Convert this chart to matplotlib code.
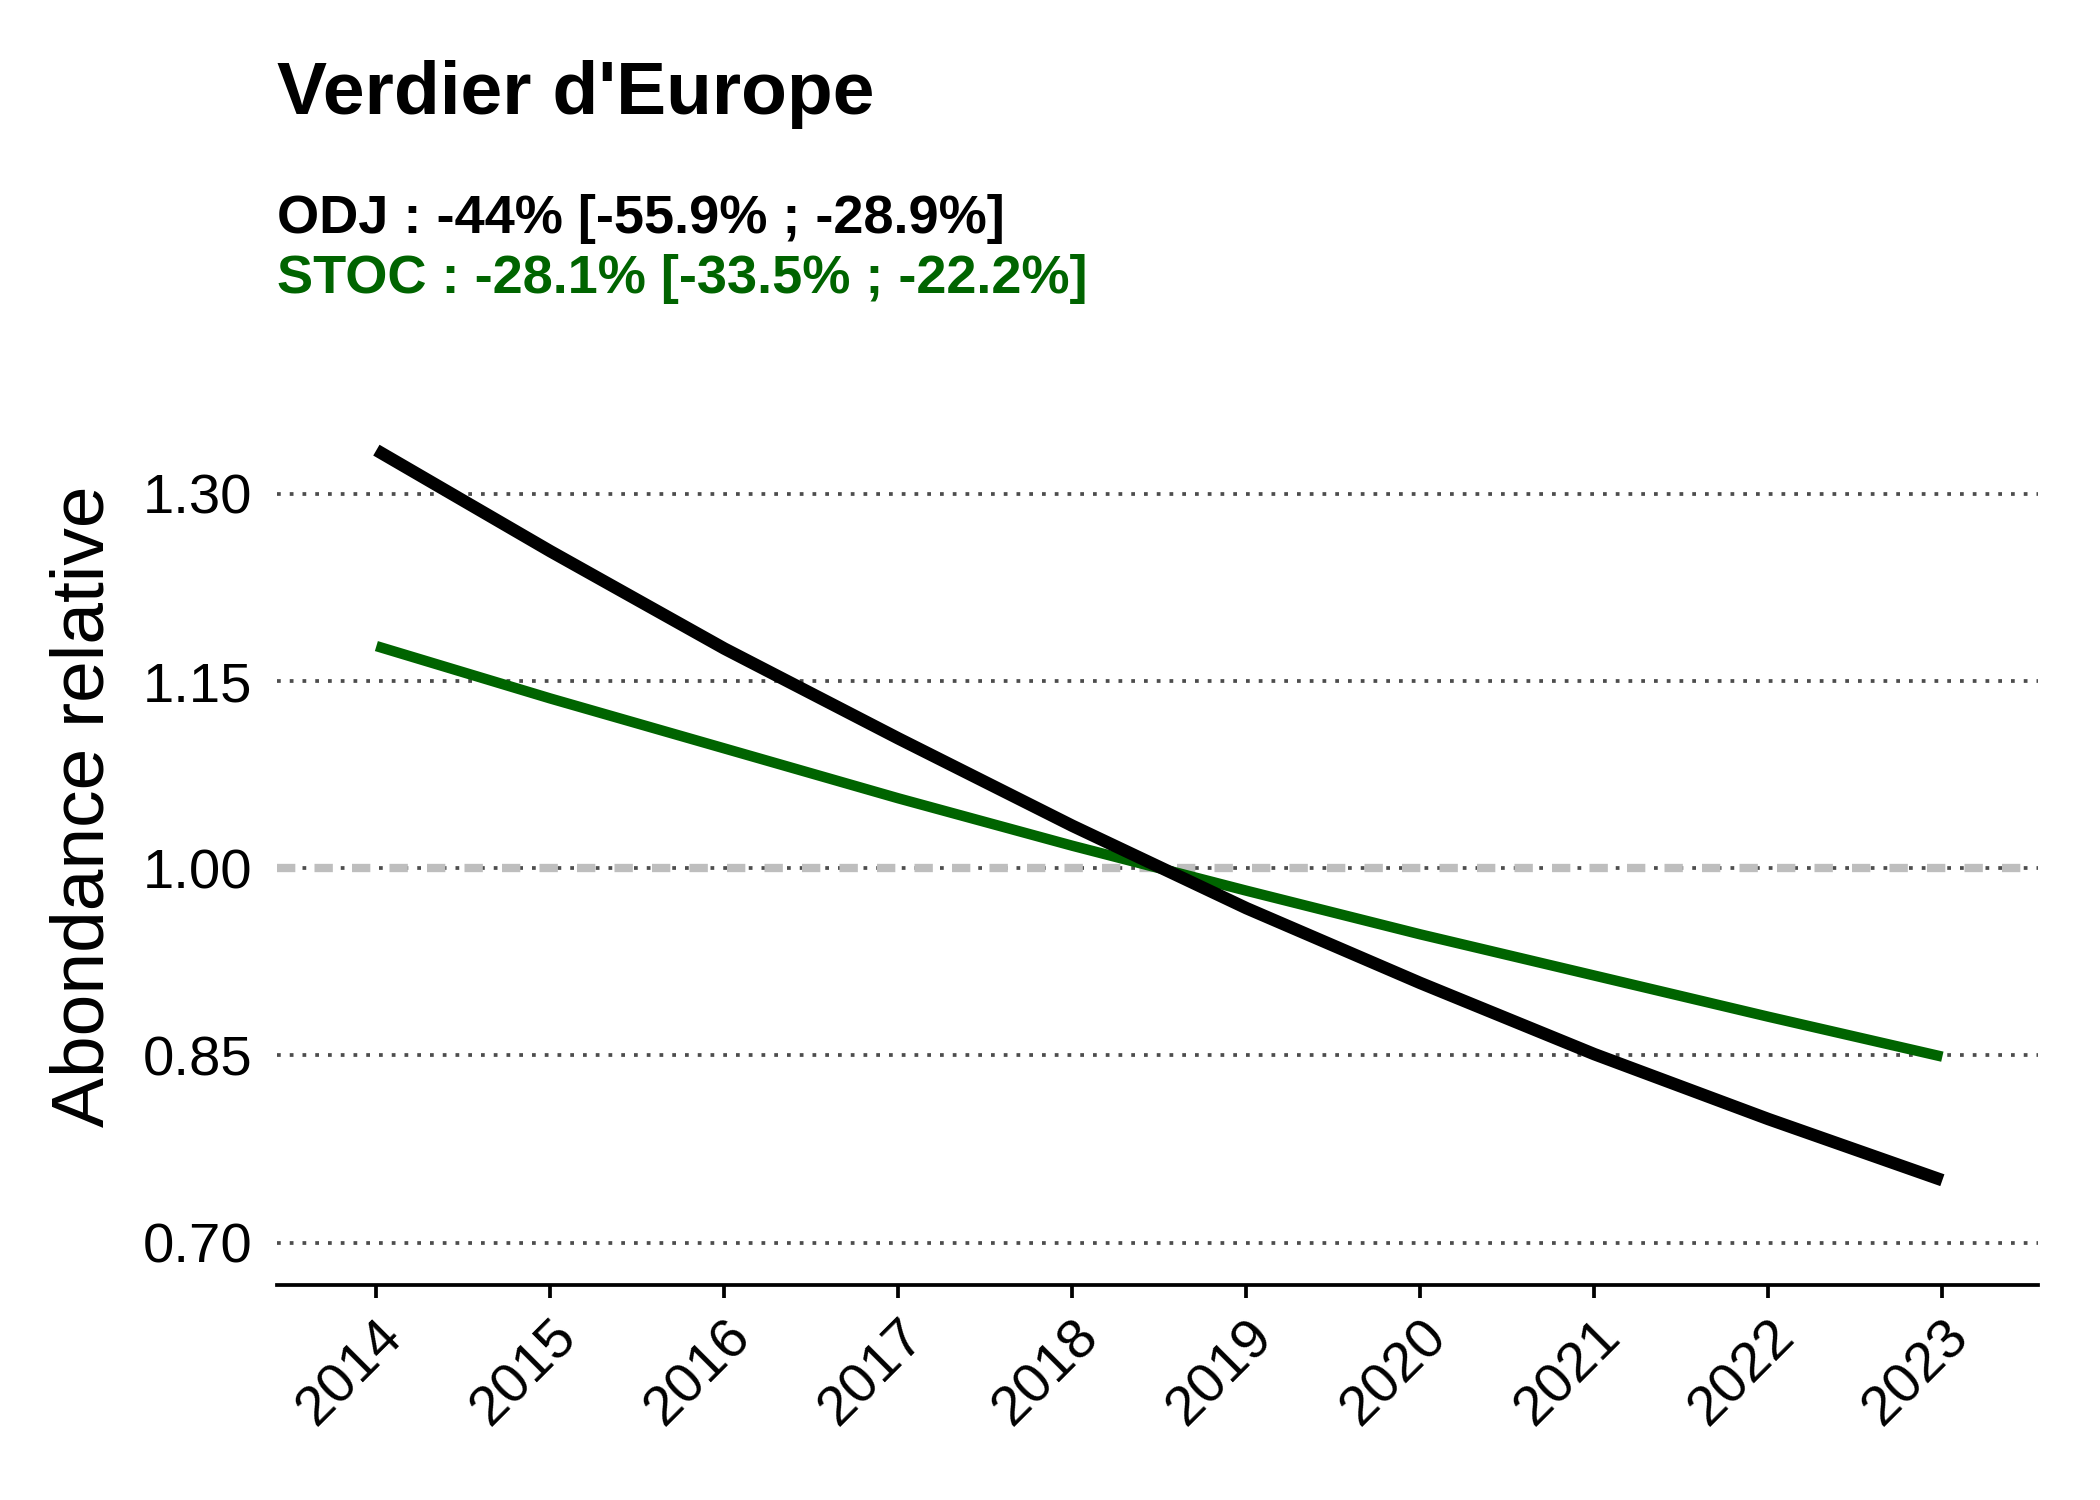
import matplotlib
matplotlib.use("Agg")
import matplotlib.pyplot as plt

plt.rcParams["font.family"] = ["Liberation Sans", "DejaVu Sans"]

years = [2014, 2015, 2016, 2017, 2018, 2019, 2020, 2021, 2022, 2023]
odj = [1.335, 1.254, 1.176, 1.104, 1.034, 0.968, 0.908, 0.851, 0.799, 0.750]
stoc = [1.178, 1.136, 1.096, 1.056, 1.018, 0.982, 0.947, 0.914, 0.881, 0.849]
yticks = [0.70, 0.85, 1.00, 1.15, 1.30]

title = "Verdier d'Europe"
sub_odj = "ODJ : -44% [-55.9% ; -28.9%]"
sub_stoc = "STOC : -28.1% [-33.5% ; -22.2%]"
GREEN = "#006400"

fig = plt.figure(figsize=(7, 5), dpi=300)
ax = fig.add_axes([0.132, 0.1433, 0.9705 - 0.132, 0.7207 - 0.1433])

for y in yticks:
    ax.axhline(y, color="#4d4d4d", lw=0.9, ls=(0, (1, 2.4)), zorder=1)
ax.axhline(1.0, color="#BEBEBE", lw=2.0, ls=(0, (2.2, 2.3)), zorder=2)

ax.plot(years, odj, color="black", lw=3.0, zorder=4, solid_capstyle="butt")
ax.plot(years, stoc, color=GREEN, lw=2.5, zorder=3, solid_capstyle="butt")

ax.set_xlim(2013.43, 2023.55)
ax.set_ylim(0.666, 1.36)
ax.set_xticks(years)
ax.set_xticklabels([str(y) for y in years], rotation=45, ha="right",
                   rotation_mode="anchor", fontsize=13.5)
ax.set_yticks(yticks)
ax.set_yticklabels([f"{v:.2f}" for v in yticks], fontsize=13.5)
ax.tick_params(axis="y", length=0, pad=6)
ax.tick_params(axis="x", length=3.2, width=0.9, pad=3)
for s in ["top", "right", "left"]:
    ax.spines[s].set_visible(False)
ax.spines["bottom"].set_linewidth(0.9)

fig.text(0.040, 0.4627, "Abondance relative", rotation=90, ha="center",
         va="center", fontsize=18)
fig.text(0.132, 0.924, title, fontsize=18, fontweight="bold", va="baseline")
fig.text(0.132, 0.845, sub_odj, fontsize=13, fontweight="bold", va="baseline")
fig.text(0.132, 0.805, sub_stoc, fontsize=13, fontweight="bold",
         color=GREEN, va="baseline")

fig.savefig("out.png", dpi=300)
